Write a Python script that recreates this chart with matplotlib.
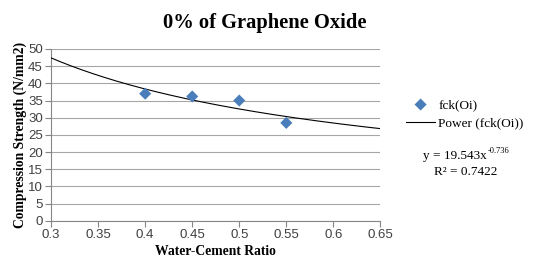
import matplotlib
matplotlib.use("Agg")
import matplotlib.pyplot as plt
import numpy as np

# data
wc_ratio = [0.40, 0.45, 0.50, 0.55]
fck = [37.0, 36.2, 35.0, 28.5]

# power trendline shown on the chart
coef_a = 19.543
coef_b = -0.736
r2 = 0.7422

x_ticks = [0.3, 0.35, 0.4, 0.45, 0.5, 0.55, 0.6, 0.65]
y_ticks = list(range(0, 51, 5))

serif = "Liberation Serif"
sans = "Liberation Sans"

fig = plt.figure(figsize=(5.38, 2.62), dpi=100)
ax = fig.add_axes([0.095, 0.157, 0.612, 0.656])

xs = np.linspace(0.3, 0.65, 200)
ax.plot(xs, coef_a * xs ** coef_b, color="black", lw=0.8, zorder=3,
        label="Power (fck(Oi))")
ax.scatter(wc_ratio, fck, marker="D", s=38, color="#4a7ebb", zorder=4,
           label="fck(Oi)", edgecolors="none")

ax.set_xlim(0.3, 0.65)
ax.set_ylim(0, 50)
ax.set_xticks(x_ticks)
ax.set_xticklabels([f"{v:g}" for v in x_ticks])
ax.set_yticks(y_ticks)
ax.yaxis.grid(True, color="#a6a6a6", lw=0.8)
ax.set_axisbelow(True)

for s in ["top", "right"]:
    ax.spines[s].set_visible(False)
for s in ["left", "bottom"]:
    ax.spines[s].set_color("#868686")
    ax.spines[s].set_linewidth(0.8)
ax.tick_params(axis="both", color="#868686", length=4, width=0.8,
               labelsize=9.5, pad=2)
for lab in ax.get_xticklabels() + ax.get_yticklabels():
    lab.set_fontfamily(sans)
    lab.set_color("#404040")

ax.set_xlabel("Water-Cement Ratio", fontfamily=serif, fontweight="bold",
              fontsize=9.8, labelpad=3)
ax.set_ylabel("Compression Strength (N/mm2)", fontfamily=serif,
              fontweight="bold", fontsize=9.8, labelpad=1)
fig.text(0.493, 0.912, "0% of Graphene Oxide", ha="center", va="center",
         fontfamily=serif, fontweight="bold", fontsize=14.8)

handles, labels = ax.get_legend_handles_labels()
fig.legend(handles[::-1], labels[::-1], loc="center left",
           bbox_to_anchor=(0.745, 0.565), frameon=False,
           prop={"family": serif, "size": 9.5}, handlelength=2.2,
           handletextpad=0.25, labelspacing=0.45, borderaxespad=0)

t = fig.text(0.786, 0.405, f"y = {coef_a}x", ha="left", va="center",
             fontfamily=serif, fontsize=9.5)
fig.canvas.draw()
bb = t.get_window_extent().transformed(fig.transFigure.inverted())
fig.text(bb.x1 + 0.002, 0.425, f"{coef_b}", ha="left", va="center",
         fontfamily=serif, fontsize=6)
fig.text(0.865, 0.345, f"R² = {r2}", ha="center", va="center",
         fontfamily=serif, fontsize=9.5)

fig.savefig("out.png", dpi=100)
